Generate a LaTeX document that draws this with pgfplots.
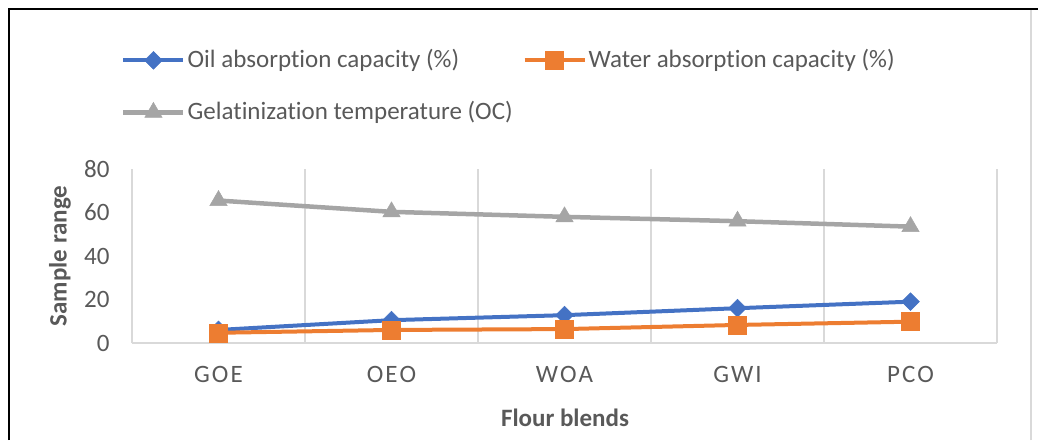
\documentclass[border=0pt]{standalone}
\usepackage{pgfplots}
\pgfplotsset{compat=1.18}
\usepackage{fontspec}
\setmainfont{Carlito}[Ligatures={NoCommon}]
\definecolor{cblue}{HTML}{4472C4}
\definecolor{corange}{HTML}{ED7D31}
\definecolor{cgray}{HTML}{A5A5A5}
\definecolor{ctext}{HTML}{595959}
\definecolor{cgrid}{HTML}{D9D9D9}
\begin{document}
\fontsize{25}{30}\selectfont
\begin{tikzpicture}[x=1pt,y=1pt]
\path[use as bounding box] (0,0) rectangle (1038,440);
\draw[black, line width=2pt] (9,0) -- (9,431) -- (1038,431);
\draw[cgrid, line width=2pt] (1031,0) -- (1031,430);
\begin{axis}[
 at={(132pt,97pt)}, anchor=south west,
 scale only axis, width=865pt, height=174pt,
 xmin=-0.5, xmax=4.5, ymin=0, ymax=80,
 xtick={0,1,2,3,4},
 xticklabels={G\kern2pt O\kern2pt E, O\kern2pt E\kern2pt O, W\kern2pt O\kern2pt A, G\kern2pt W\kern2pt I, P\kern2pt C\kern2pt O},
 ytick={0,20,40,60,80},
 axis line style={draw=none},
 major tick length=0pt,
 extra x ticks={-0.5,0.5,1.5,2.5,3.5,4.5}, extra x tick labels={},
 extra x tick style={grid=major, major grid style={cgrid, line width=1.5pt}},
 extra y ticks={0}, extra y tick labels={},
 extra y tick style={grid=major, major grid style={cgrid, line width=1.5pt}},
 tick label style={font=\fontsize{25}{30}\selectfont, text=ctext},
 yticklabel style={xshift=-14pt},
 xticklabel style={yshift=-15pt},
 /pgf/number format/assume math mode=true,
 xlabel={\bfseries Flour blends}, ylabel={\bfseries Sample range},
 label style={font=\fontsize{25}{30}\selectfont, text=ctext},
 xlabel style={at={(axis description cs:0.5006,-0.431)}, anchor=center},
 ylabel style={at={(axis description cs:-0.0832,0.5)}, anchor=center},
 legend style={at={(axis description cs:-0.0162,1.712)}, anchor=north west, draw=none, fill=none,
   font=\fontsize{25}{30}\selectfont, text=ctext,
   /tikz/every even column/.append style={column sep=8pt}, row sep=26pt},
 legend columns=2, legend cell align=left,
 legend image code/.code={\draw[mark repeat=2,mark phase=2,#1] plot coordinates {(0pt,0pt) (30pt,0pt) (60pt,0pt)};},
]
\addplot[cblue, line width=4pt, mark=square*, mark size=6.3pt, mark options={solid, line width=0.5pt, rotate=45}]
 coordinates {(0,6) (1,10.5) (2,12.8) (3,16) (4,19)};
\addlegendentry{Oil absorption capacity (\%)}
\addplot[corange, line width=4pt, mark=square*, mark size=9pt, mark options={solid, line width=0.5pt}]
 coordinates {(0,4.7) (1,6) (2,6.4) (3,8.3) (4,9.8)};
\addlegendentry{Water absorption capacity (\%)}
\addplot[cgray, line width=4.5pt, mark=triangle*, mark size=10pt, mark options={solid, line width=0.5pt}]
 coordinates {(0,65.5) (1,60.3) (2,58) (3,56) (4,53.5)};
\addlegendentry{Gelatinization temperature (OC)}
\end{axis}
\end{tikzpicture}
\end{document}
